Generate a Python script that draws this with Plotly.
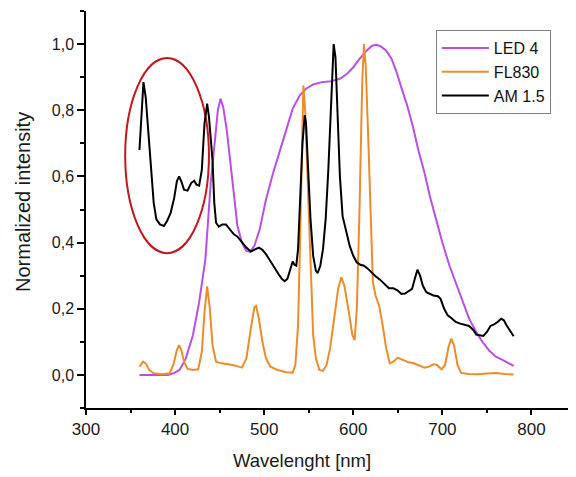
import plotly.graph_objects as go

# ---------------- data ----------------
led_wl = [360, 380, 392, 398, 405, 412, 420, 427, 434, 440, 445, 448, 451, 454, 458, 462, 466, 470, 475, 480,
          484, 489, 495, 502, 510, 517, 525, 532, 540, 547, 555, 565, 575, 585, 593, 600, 607, 615, 621, 626,
          631, 637, 643, 648, 655, 661, 667, 673, 680, 686, 693, 700, 708, 716, 723, 730, 738, 745, 753, 760,
          768, 775, 780]
led_val = [0.0, 0.0, 0.0, 0.005, 0.015, 0.05, 0.12, 0.22, 0.35, 0.58, 0.72, 0.80, 0.835, 0.81, 0.74, 0.64, 0.54, 0.45, 0.40, 0.375,
           0.372, 0.39, 0.44, 0.53, 0.61, 0.67, 0.745, 0.805, 0.845, 0.865, 0.878, 0.885, 0.888, 0.895, 0.91, 0.93, 0.955, 0.98, 0.995, 0.998,
           0.993, 0.98, 0.955, 0.92, 0.86, 0.81, 0.75, 0.68, 0.61, 0.54, 0.47, 0.40, 0.33, 0.27, 0.22, 0.17, 0.13, 0.10, 0.072, 0.055,
           0.045, 0.035, 0.027]

fl_wl = [360, 364, 367, 371, 376, 385, 394, 398, 402, 404.5, 407, 410, 414, 420, 426, 430, 433, 436, 439, 442,
         446, 452, 460, 468, 475, 480, 485, 489, 491, 494, 498, 502, 507, 515, 525, 532, 535, 538, 540, 542,
         544, 546, 549, 552, 555, 558, 562, 566, 570, 574, 578, 583, 586.5, 590, 595, 599, 601.5, 604, 607, 610,
         612, 614, 617, 620, 622, 625, 629, 633, 637, 641, 645, 650, 656, 662, 668, 674, 680, 685, 690, 694,
         699, 703, 707, 710, 713, 717, 721, 730, 740, 750, 760, 770, 780]
fl_val = [0.025, 0.04, 0.035, 0.015, 0.005, 0.002, 0.005, 0.03, 0.075, 0.09, 0.075, 0.04, 0.018, 0.015, 0.017, 0.07, 0.19, 0.268, 0.2, 0.09,
          0.04, 0.035, 0.032, 0.028, 0.022, 0.05, 0.14, 0.205, 0.208, 0.17, 0.1, 0.05, 0.025, 0.015, 0.008, 0.007, 0.03, 0.15, 0.37, 0.68,
          0.875, 0.8, 0.55, 0.3, 0.12, 0.05, 0.015, 0.012, 0.03, 0.08, 0.16, 0.26, 0.295, 0.27, 0.19, 0.12, 0.105, 0.2, 0.5, 0.88,
          1.0, 0.93, 0.7, 0.42, 0.28, 0.24, 0.21, 0.15, 0.08, 0.035, 0.04, 0.052, 0.045, 0.038, 0.035, 0.028, 0.022, 0.025, 0.032, 0.03,
          0.017, 0.03, 0.085, 0.11, 0.09, 0.03, 0.006, 0.003, 0.002, 0.004, 0.006, 0.003, 0.001]

am_wl = [360, 362, 364.5, 367, 370, 373, 376, 379, 383, 387.5, 391, 395, 399, 402, 404.5, 407, 410, 414, 418, 421.5,
         424, 427, 430, 433, 436, 438, 440, 442, 444, 446, 449, 453, 457, 461, 466, 470, 475, 480, 485, 490,
         494, 498, 502, 506, 511, 516, 520, 523, 526, 529, 532, 534, 536, 538, 540, 543, 545.5, 547, 549, 552,
         555, 558, 560, 563, 566, 569, 572, 575, 578, 580, 582, 585, 588, 592, 596, 600, 604, 608, 612, 616,
         620, 625, 630, 635, 640, 645, 650, 654, 658, 662, 666, 669, 672, 675, 678, 682, 686, 690, 695, 698,
         702, 706, 710, 715, 720, 725, 730, 735, 738, 742, 746, 750, 754, 758, 762, 766, 769, 772, 776, 780]
am_val = [0.68, 0.78, 0.885, 0.84, 0.74, 0.62, 0.52, 0.47, 0.455, 0.45, 0.465, 0.49, 0.535, 0.585, 0.6, 0.585, 0.56, 0.557, 0.58, 0.587,
          0.575, 0.572, 0.62, 0.76, 0.82, 0.78, 0.72, 0.65, 0.52, 0.46, 0.448, 0.455, 0.455, 0.44, 0.425, 0.418, 0.40, 0.385, 0.373, 0.38,
          0.385, 0.378, 0.365, 0.348, 0.325, 0.305, 0.29, 0.283, 0.29, 0.315, 0.343, 0.333, 0.33, 0.38, 0.5, 0.7, 0.785, 0.76, 0.64, 0.47,
          0.36, 0.315, 0.308, 0.33, 0.38, 0.47, 0.62, 0.82, 1.0, 0.96, 0.8, 0.6, 0.48, 0.43, 0.39, 0.36, 0.34, 0.333, 0.33, 0.322,
          0.31, 0.298, 0.288, 0.275, 0.262, 0.262, 0.255, 0.245, 0.246, 0.253, 0.26, 0.29, 0.318, 0.3, 0.27, 0.25, 0.245, 0.24, 0.238, 0.23,
          0.2, 0.18, 0.172, 0.16, 0.155, 0.152, 0.148, 0.135, 0.122, 0.12, 0.118, 0.13, 0.148, 0.153, 0.16, 0.17, 0.165, 0.15, 0.135, 0.117]

x_ticks = [300, 400, 500, 600, 700, 800]
y_ticks = [0.0, 0.2, 0.4, 0.6, 0.8, 1.0]
y_tick_text = ["0,0", "0,2", "0,4", "0,6", "0,8", "1,0"]

# ellipse highlight (data coords)
ell_x = [344, 438]
ell_y = [0.368, 0.958]

FONT = "Liberation Sans, Arial, sans-serif"
TXT = "#1a1a1a"

fig = go.Figure()
fig.add_trace(go.Scatter(x=led_wl, y=led_val, mode="lines", name="LED 4",
                         line=dict(color="#B94FE3", width=2)))
fig.add_trace(go.Scatter(x=fl_wl, y=fl_val, mode="lines", name="FL830",
                         line=dict(color="#EE8C2A", width=2)))
fig.add_trace(go.Scatter(x=am_wl, y=am_val, mode="lines", name="AM 1.5",
                         line=dict(color="#000000", width=2)))

fig.add_shape(type="circle", xref="x", yref="y",
              x0=ell_x[0], x1=ell_x[1], y0=ell_y[0], y1=ell_y[1],
              line=dict(color="#C4161C", width=2), layer="below")

# axis titles (placed as in the reference)
fig.add_annotation(text="Wavelenght [nm]", xref="paper", yref="paper",
                   x=0.44, y=-0.131, xanchor="center", yanchor="middle",
                   showarrow=False, font=dict(size=18.5, color=TXT))
fig.add_annotation(text="Normalized intensity", xref="paper", yref="paper",
                   x=-0.1286, y=0.519, xanchor="center", yanchor="middle",
                   textangle=-90, showarrow=False, font=dict(size=20, color=TXT))

common_x = dict(range=[300, 850], showgrid=False, zeroline=False, automargin=False,
                showline=True, linecolor="black", linewidth=1.5,
                tickvals=x_ticks, tickcolor="black", tickwidth=1.5, ticklen=5)
common_y = dict(range=[-0.1, 1.1], showgrid=False, zeroline=False, automargin=False,
                tickvals=y_ticks, tickcolor="black", tickwidth=1.5, ticklen=7)

# page body has an 8px margin: the margins below compensate for it
fig.update_layout(
    width=576, height=477,
    margin=dict(l=78, r=8, t=3, b=77),
    paper_bgcolor="white", plot_bgcolor="white",
    font=dict(family=FONT, color=TXT, size=16),
    showlegend=True,
    legend=dict(x=0.714, y=0.952, xanchor="left", yanchor="top",
                bgcolor="white", bordercolor="#808080", borderwidth=1,
                font=dict(size=16, color="#111"), tracegroupgap=0,
                itemwidth=47),
    xaxis=dict(**common_x, ticks="outside", ticktext=[str(v) for v in x_ticks],
               tickfont=dict(size=17),
               minor=dict(dtick=50, ticks="outside", ticklen=3, tickcolor="black", tickwidth=1.5)),
    xaxis2=dict(**common_x, overlaying="x", side="top", ticks="inside", showticklabels=False,
                minor=dict(dtick=50, ticks="inside", ticklen=3, tickcolor="black", tickwidth=1.5)),
    yaxis=dict(**common_y, ticks="outside", ticktext=y_tick_text, showline=True,
               linecolor="black", linewidth=1.5, tickfont=dict(size=16),
               minor=dict(dtick=0.1, ticks="outside", ticklen=4, tickcolor="black", tickwidth=1.5)),
    yaxis2=dict(**common_y, overlaying="y", side="right", ticks="inside", showticklabels=False,
                showline=False,
                minor=dict(dtick=0.1, ticks="inside", ticklen=4, tickcolor="black", tickwidth=1.5)),
)

fig.write_html("out.html")
